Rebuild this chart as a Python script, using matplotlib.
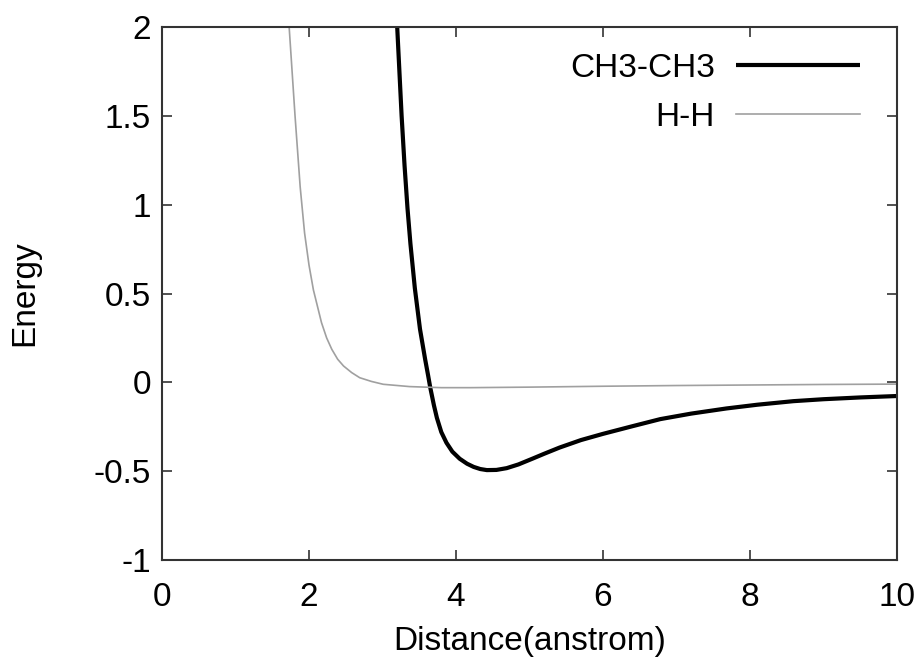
import matplotlib
matplotlib.use("Agg")
import matplotlib.pyplot as plt

plt.rcParams['font.family'] = ['Liberation Sans', 'DejaVu Sans']

# CH3-CH3 potential
ch3_x = [3.10, 3.20, 3.26, 3.30, 3.34, 3.38, 3.44, 3.51, 3.58, 3.62, 3.65, 3.70, 3.74,
         3.80, 3.87, 3.95, 4.05, 4.15, 4.24, 4.33, 4.42, 4.55, 4.69, 4.85, 5.05, 5.20,
         5.41, 5.70, 6.00, 6.40, 6.78, 7.20, 7.68, 8.10, 8.59, 9.00, 9.50, 10.00]
ch3_y = [2.80, 2.00, 1.50, 1.22, 0.98, 0.78, 0.53, 0.30, 0.13, 0.04, -0.03, -0.13, -0.20,
         -0.28, -0.34, -0.39, -0.43, -0.458, -0.476, -0.488, -0.494, -0.493, -0.483, -0.462,
         -0.428, -0.402, -0.367, -0.325, -0.29, -0.247, -0.207, -0.176, -0.147, -0.126,
         -0.106, -0.095, -0.085, -0.077]

# H-H potential
hh_x = [1.66, 1.73, 1.81, 1.88, 1.94, 2.00, 2.06, 2.17, 2.24, 2.31, 2.39, 2.47, 2.58,
        2.69, 2.85, 3.01, 3.37, 3.80, 4.20, 5.00, 6.00, 7.00, 8.00, 9.00, 10.00]
hh_y = [2.60, 2.00, 1.50, 1.10, 0.84, 0.66, 0.52, 0.336, 0.25, 0.186, 0.13, 0.092, 0.055,
        0.026, 0.005, -0.011, -0.024, -0.03, -0.03, -0.027, -0.022, -0.018, -0.015,
        -0.012, -0.010]

labels = ["CH3-CH3", "H-H"]
x_ticks = [0, 2, 4, 6, 8, 10]
y_ticks = [-1, -0.5, 0, 0.5, 1, 1.5, 2]
y_tick_labels = ["-1", "-0.5", "0", "0.5", "1", "1.5", "2"]

FS = 24

fig = plt.figure(figsize=(9.24, 6.65), dpi=100)
ax = fig.add_axes([162/924, 1 - 560/665, (897 - 162)/924, (560 - 27)/665])

ax.plot(ch3_x, ch3_y, color='black', lw=3.0, label=labels[0], solid_capstyle='butt')
ax.plot(hh_x, hh_y, color='#a0a0a0', lw=1.2, label=labels[1])

ax.set_xlim(0, 10)
ax.set_ylim(-1, 2)
ax.set_xticks(x_ticks)
ax.set_xticklabels([str(t) for t in x_ticks])
ax.set_yticks(y_ticks)
ax.set_yticklabels(y_tick_labels)
ax.tick_params(direction='in', length=7, width=1.2, top=True, right=True,
               labelsize=FS, color='#333333')
ax.tick_params(axis='x', pad=16)
ax.tick_params(axis='y', pad=8)
for s in ax.spines.values():
    s.set_linewidth(1.5)
    s.set_color('#333333')

ax.set_xlabel("Distance(anstrom)", fontsize=FS, labelpad=9)
ax.set_ylabel("Energy", fontsize=FS, labelpad=38)

ax.legend(loc='upper right', bbox_to_anchor=(0.99, 1.008), frameon=False, markerfirst=False,
          fontsize=FS, handlelength=3.7, handletextpad=0.65, labelspacing=0.55)

fig.savefig("out.png", dpi=100)
